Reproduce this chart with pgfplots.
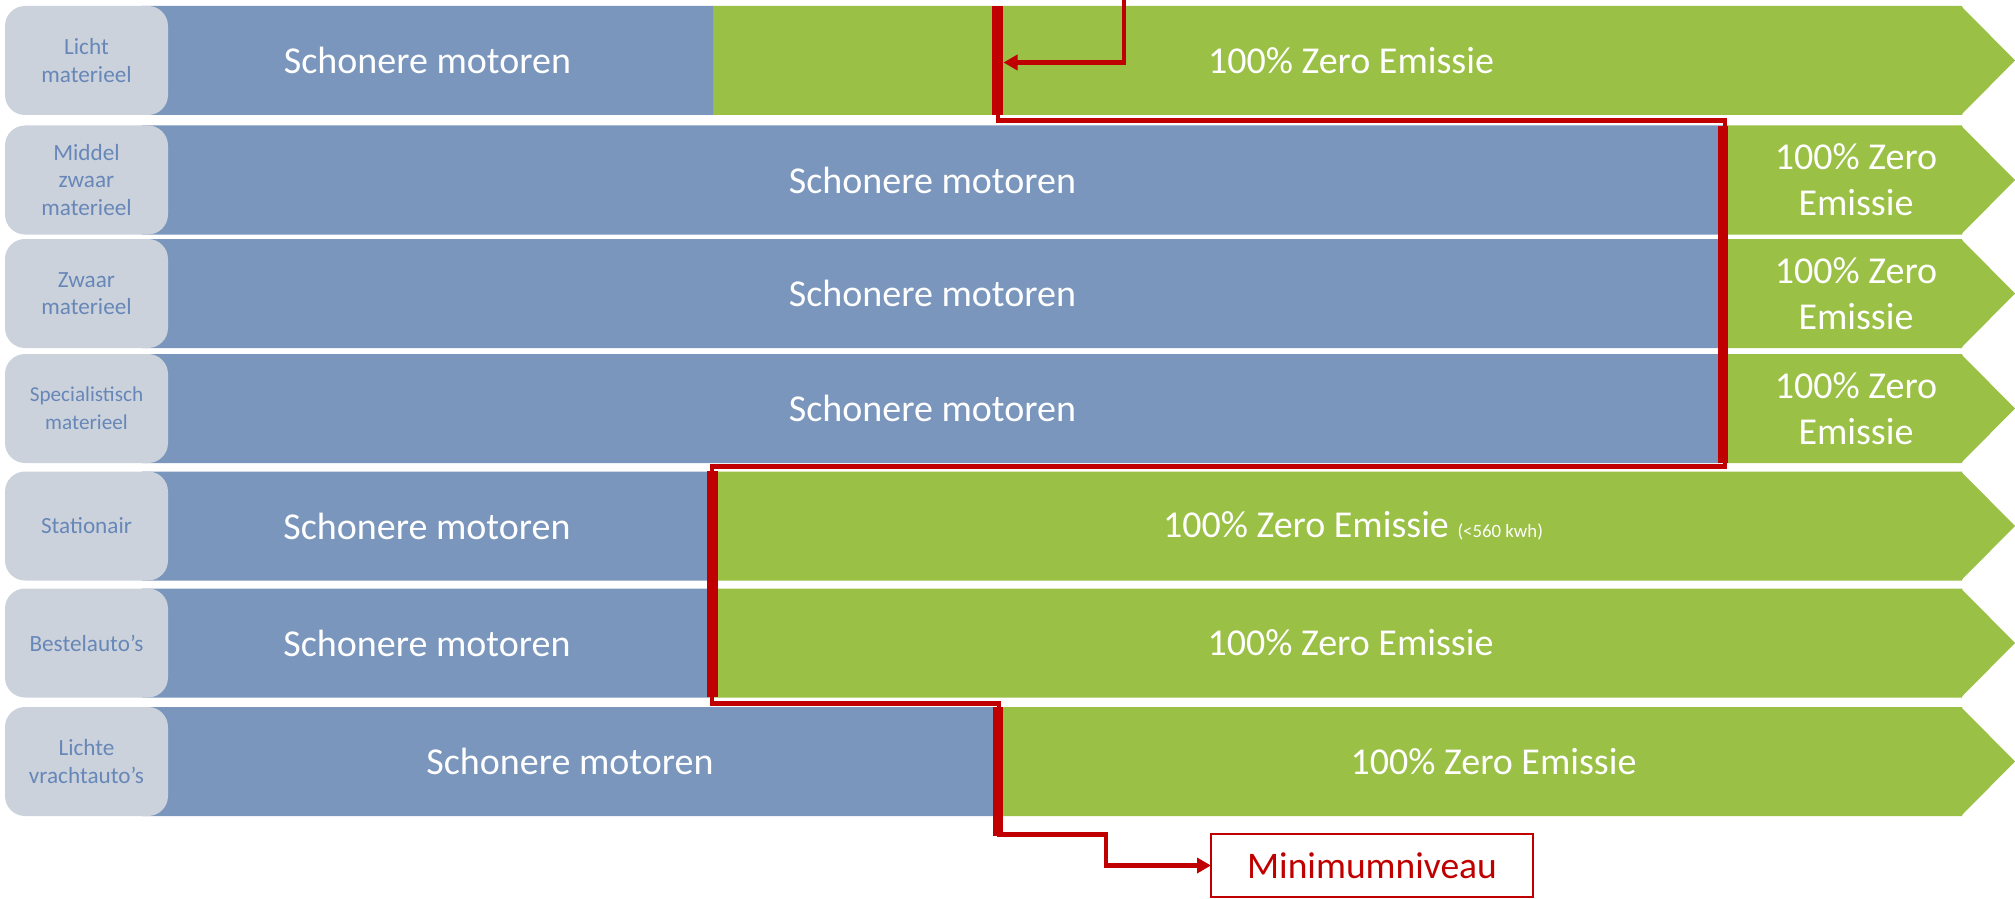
\documentclass[border=0pt]{standalone}
\usepackage{pgfplots}
\pgfplotsset{compat=1.18}
\usepackage{pgfplotstable}
\usepackage{fontspec}
\setmainfont{Carlito}
\usetikzlibrary{arrows.meta}

\definecolor{barblue}{HTML}{7A96BC}
\definecolor{zgreen}{HTML}{9AC045}
\definecolor{lblfill}{HTML}{CBD2DC}
\definecolor{lbltext}{HTML}{6787B8}
\definecolor{zred}{HTML}{C00000}

% y = row centre (px from top), off = start of bar, blue = schonere motoren, green = zero emissie
\pgfplotstableread{
y     off  blue   green
60.5  142  571    1249
180   142  1581   239
293.5 142  1581   239
408.5 142  1581   239
526   142  570.5  1249.5
643   142  570.5  1249.5
761.5 142  856    964
}\bars

\pgfplotsset{canvas/.style={at={(0,0)}, anchor=south west, scale only axis,
  width=1007.5pt, height=449.5pt, xmin=0, xmax=2015, ymin=0, ymax=899,
  y dir=reverse, hide axis, clip=false}}

\tikzset{
  lbl/.style={fill=lblfill, rounded corners=10pt, minimum width=81.5pt, minimum height=54.5pt,
    inner sep=0pt, align=center, text=lbltext, font=\fontsize{11.6}{13.8}\selectfont},
  btxt/.style={text=white, inner sep=0pt, align=center, font=\fontsize{19}{23}\selectfont},
  thin/.style={zred, line width=2.2pt},
  thick/.style={zred, line width=5.5pt},
}

\begin{document}
\begin{tikzpicture}
\useasboundingbox (0,0) rectangle (1007.5pt,449.5pt);
\begin{axis}[canvas, xbar stacked, bar width=109]
\addplot[draw=none, fill=none] table[x=off, y=y]{\bars};
\addplot[draw=none, fill=barblue] table[x=blue, y=y]{\bars};
\addplot[draw=none, fill=zgreen] table[x=green, y=y]{\bars};
\end{axis}

\begin{axis}[canvas]
% chevron tips
\addplot[draw=none, fill=zgreen] coordinates {(1961,6) (2015,60.5) (1961,115)};
\addplot[draw=none, fill=zgreen] coordinates {(1961,125.5) (2015,180) (1961,234.5)};
\addplot[draw=none, fill=zgreen] coordinates {(1961,239) (2015,293.5) (1961,348)};
\addplot[draw=none, fill=zgreen] coordinates {(1961,354) (2015,408.5) (1961,463)};
\addplot[draw=none, fill=zgreen] coordinates {(1961,471.5) (2015,526) (1961,580.5)};
\addplot[draw=none, fill=zgreen] coordinates {(1961,588.5) (2015,643) (1961,697.5)};
\addplot[draw=none, fill=zgreen] coordinates {(1961,707) (2015,761.5) (1961,816)};

% category labels
\node[lbl] at (axis cs:86.5,60.5) {Licht\\materieel};
\node[lbl] at (axis cs:86.5,180) {Middel\\zwaar\\materieel};
\node[lbl] at (axis cs:86.5,293.5) {Zwaar\\materieel};
\node[lbl, font=\fontsize{10.6}{13.8}\selectfont] at (axis cs:86.5,408.5) {Specialistisch\\materieel};
\node[lbl] at (axis cs:86.5,526) {Stationair};
\node[lbl] at (axis cs:86.5,643) {Bestelauto’s};
\node[lbl] at (axis cs:86.5,761.5) {Lichte\\vrachtauto’s};

% bar texts
\node[btxt] at (axis cs:427.5,60.5) {Schonere motoren};
\node[btxt] at (axis cs:932.5,180) {Schonere motoren};
\node[btxt] at (axis cs:932.5,293.5) {Schonere motoren};
\node[btxt] at (axis cs:932.5,408.5) {Schonere motoren};
\node[btxt] at (axis cs:427,526) {Schonere motoren};
\node[btxt] at (axis cs:427,643) {Schonere motoren};
\node[btxt] at (axis cs:570,761.5) {Schonere motoren};

\node[btxt] at (axis cs:1351,60.5) {100\% Zero Emissie};
\node[btxt] at (axis cs:1856,180) {100\% Zero\\Emissie};
\node[btxt] at (axis cs:1856,293.5) {100\% Zero\\Emissie};
\node[btxt] at (axis cs:1856,408.5) {100\% Zero\\Emissie};
\node[btxt] at (axis cs:1353,526) {100\% Zero Emissie {\fontsize{9.4}{10}\selectfont (<560 kwh)}};
\node[btxt] at (axis cs:1350.5,643) {100\% Zero Emissie};
\node[btxt] at (axis cs:1493.5,761.5) {100\% Zero Emissie};

% red minimum level line
\addplot[thick] coordinates {(997.5,6) (997.5,115)};
\addplot[thick, line width=5pt] coordinates {(1723,126) (1723,463)};
\addplot[thick] coordinates {(712.5,471) (712.5,697)};
\addplot[thick, line width=5pt] coordinates {(998,707) (998,836)};

\addplot[thin, -{Triangle[length=7pt,width=7.5pt]}] coordinates {(1124,0) (1124,62.5) (1003.5,62.5)};
\addplot[thin, -{Triangle[length=7pt,width=7.5pt]}] coordinates {(998,112) (998,120.5) (1725,120.5) (1725,466.5) (712,466.5) (712,703.5) (999,703.5) (999,834.5) (1106,834.5) (1106,865.5) (1211,865.5)};

\node[draw=zred, line width=1.2pt, fill=white, minimum width=161pt, minimum height=31.5pt,
  inner sep=0pt, text=zred, font=\fontsize{18.75}{22}\selectfont] at (axis cs:1372,865.5) {Minimumniveau};
\end{axis}
\end{tikzpicture}
\end{document}
